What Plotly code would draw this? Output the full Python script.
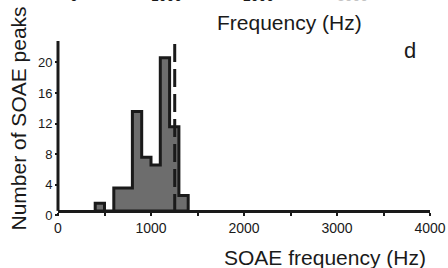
import plotly.graph_objects as go

# ---------------- data ----------------
bin_left = [400, 500, 600, 700, 800, 900, 1000, 1100, 1200, 1300]
bin_width = 100
counts = [1, 0, 3, 3, 13, 7, 6, 20, 11, 2]
count_offset = 0.6          # histogram baseline sits slightly above the 0 tick in the source
mean_freq = 1255            # dashed reference line (Hz)
mean_line_top = 22.4

x_tickvals = [0, 500, 1000, 1500, 2000, 2500, 3000, 3500, 4000]
x_ticktext = ["0", "", "1000", "", "2000", "", "3000", "", "4000"]
y_tickvals = [0, 4, 8, 12, 16, 20]
y_ticktext = ["0", "4", "8", "12", "16", "20"]
upper_ticklabels = ["0", "1000", "2000", "3000"]   # cut-off labels of the panel above

# ---------------- layout geometry ----------------
W, H = 448, 268
ML, MR, MT, MB = 58, 18, 41, 51
Y_RANGE = [-0.2, 22.8]
X_RANGE = [0, 4000]
FONT = "Liberation Sans, Arial, Helvetica, sans-serif"
INK = "#1a1a1a"


def px_x(px):
    return (px - ML) / (W - ML - MR)


def px_y(py):
    return (H - MB - py) / (H - MT - MB)


# step outline of histogram
xs, ys = [], []
for left, c in zip(bin_left, counts):
    top = c + count_offset
    xs += [left, left + bin_width]
    ys += [top, top]
xs = [bin_left[0]] + xs + [bin_left[-1] + bin_width, bin_left[0]]
ys = [count_offset] + ys + [count_offset, count_offset]

fig = go.Figure()
fig.add_trace(go.Scatter(
    x=xs, y=ys, mode="lines", fill="toself",
    fillcolor="#6d6d6d", line=dict(color=INK, width=3),
    hoverinfo="skip", showlegend=False))
fig.add_trace(go.Scatter(
    x=[mean_freq, mean_freq], y=[mean_line_top, count_offset], mode="lines",
    line=dict(color=INK, width=3, dash="18px,7px"),
    hoverinfo="skip", showlegend=False))

xpos = (count_offset - Y_RANGE[0]) / (Y_RANGE[1] - Y_RANGE[0])

fig.update_layout(
    width=W, height=H,
    margin=dict(l=ML, r=MR, t=MT, b=MB, autoexpand=False),
    paper_bgcolor="white", plot_bgcolor="white",
    font=dict(family=FONT, color=INK),
    xaxis=dict(
        range=X_RANGE, tickvals=x_tickvals, ticktext=x_ticktext,
        showline=True, linewidth=3, linecolor=INK,
        anchor="free", position=xpos, automargin=False,
        ticks="outside", ticklen=3, tickwidth=2, tickcolor=INK,
        tickfont=dict(size=14, family=FONT, color=INK),
        showgrid=False, zeroline=False, fixedrange=True),
    yaxis=dict(
        range=Y_RANGE, tickvals=y_tickvals, ticktext=y_ticktext,
        showline=False, automargin=False,
        ticks="outside", ticklen=2, tickwidth=2, tickcolor=INK,
        tickfont=dict(size=13, family=FONT, color=INK),
        showgrid=False, zeroline=False, fixedrange=True),
)

# y-axis line from histogram baseline to top
fig.add_shape(type="line", xref="paper", yref="y",
              x0=0, x1=0, y0=count_offset, y1=Y_RANGE[1],
              line=dict(color=INK, width=3))

ann = []
ann.append(dict(text="SOAE frequency (Hz)", x=px_x(428), y=px_y(257),
                xanchor="right", yanchor="middle", font=dict(size=21)))
ann.append(dict(text="Number of SOAE peaks", x=px_x(17.5), y=px_y(119),
                xanchor="center", yanchor="middle", textangle=-90, font=dict(size=21)))
ann.append(dict(text="Frequency (Hz)", x=px_x(289), y=px_y(22),
                xanchor="center", yanchor="middle", font=dict(size=21)))
ann.append(dict(text="d", x=px_x(409.5), y=px_y(51), xanchor="center",
                yanchor="middle", font=dict(size=22)))
upper_centers = [74, 166, 258, 352]
upper_colors = [INK, INK, INK, "#c4c4c4"]
for lab, cx, col in zip(upper_ticklabels, upper_centers, upper_colors):
    ann.append(dict(text=lab, x=px_x(cx), y=px_y(6), xanchor="center",
                    yanchor="bottom", font=dict(size=14, color=col)))
for a in ann:
    a.update(xref="paper", yref="paper", showarrow=False)
    a.setdefault("font", {})
    a["font"].setdefault("family", FONT)
    a["font"].setdefault("color", INK)
fig.update_layout(annotations=ann)

fig.write_html(
    "out.html",
    config={"displayModeBar": False, "staticPlot": True},
    post_script="document.body.style.margin='0';document.body.style.padding='0';"
                "document.body.style.overflow='hidden';",
)
